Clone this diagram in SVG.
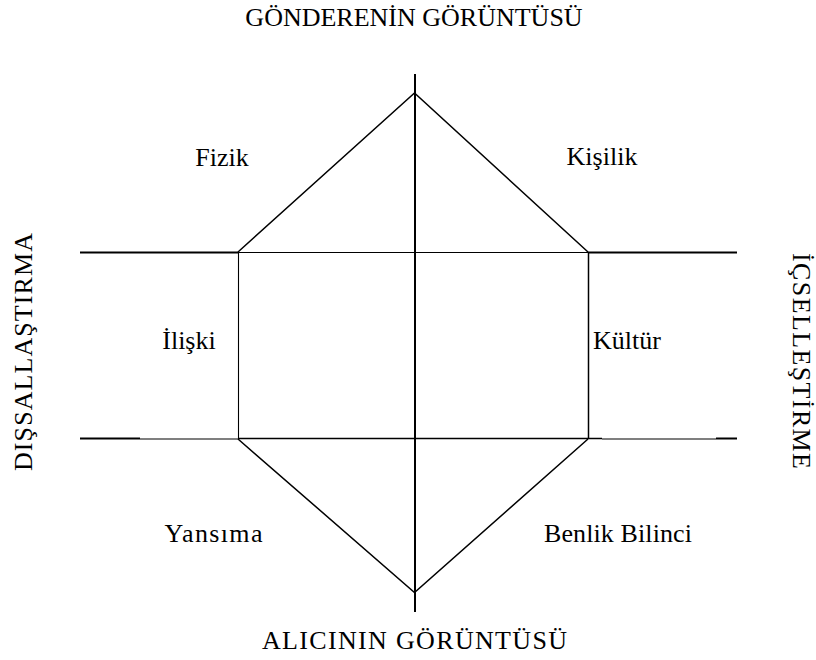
<svg xmlns="http://www.w3.org/2000/svg" width="816" height="660" viewBox="0 0 816 660">
<style>
.t{font-family:"Liberation Serif","Times New Roman",serif;font-size:26px;fill:#000}
.m{text-anchor:middle}
.k{stroke:#000;fill:none;stroke-linecap:butt}
.w2{stroke-width:2}
.w15{stroke-width:1.5}
.w1{stroke-width:1.1}
</style>
<rect width="816" height="660" fill="#fff"/>
<g id="connectors">
<line class="k w2" x1="80" y1="252.5" x2="238" y2="252.5"/>
<line class="k w1" x1="238" y1="252.5" x2="588" y2="252.5"/>
<line class="k w2" x1="588" y1="252.5" x2="737" y2="252.5"/>
<line class="k w2" x1="80" y1="438.5" x2="140" y2="438.5"/>
<line class="k w1" x1="140" y1="439" x2="238" y2="439"/>
<line class="k w15" x1="238" y1="438.5" x2="602" y2="438.5"/>
<line class="k w1" x1="602" y1="439" x2="716" y2="439"/>
<line class="k w2" x1="716" y1="438.5" x2="737" y2="438.5"/>
<line class="k w1" x1="238.5" y1="252" x2="238.5" y2="439"/>
<line class="k w15" x1="588.5" y1="252" x2="588.5" y2="439"/>
<line class="k w2" x1="415" y1="74" x2="415" y2="612"/>
<polyline class="k w15" points="238,252 414.5,93 588,252"/>
<polyline class="k w15" points="238,439 414.5,592.5 588,439"/>
</g>
<g id="title-top"><text class="t m" x="414" y="26">GÖNDERENİN GÖRÜNTÜSÜ</text></g>
<g id="title-bottom"><text class="t m" x="414.5" y="649" textLength="305" lengthAdjust="spacing">ALICININ GÖRÜNTÜSÜ</text></g>
<g id="side-left"><text class="t m" transform="translate(32,352) rotate(-90)" textLength="238" lengthAdjust="spacing">DIŞSALLAŞTIRMA</text></g>
<g id="side-right"><text class="t m" transform="translate(793,361) rotate(90)" textLength="216" lengthAdjust="spacing">İÇSELLEŞTİRME</text></g>
<g id="fizik"><text class="t m" x="222" y="166">Fizik</text></g>
<g id="kisilik"><text class="t m" x="602" y="165">Kişilik</text></g>
<g id="iliski"><text class="t m" x="189" y="349">İlişki</text></g>
<g id="kultur"><text class="t m" x="627" y="349">Kültür</text></g>
<g id="yansima"><text class="t m" x="213.5" y="542" textLength="98" lengthAdjust="spacing">Yansıma</text></g>
<g id="benlik"><text class="t m" x="618" y="542" textLength="148" lengthAdjust="spacing">Benlik Bilinci</text></g>
</svg>
